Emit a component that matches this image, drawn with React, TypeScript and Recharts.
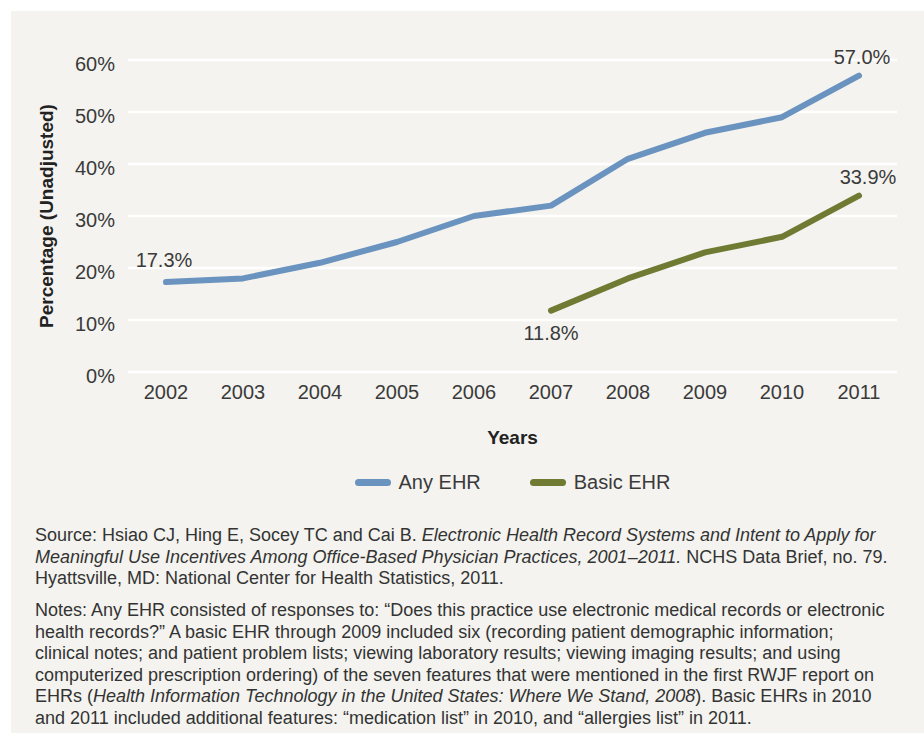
import React from 'react';
import { LineChart, Line, XAxis, YAxis, CartesianGrid, Legend, LabelList } from 'recharts';

// values
const years = ['2002', '2003', '2004', '2005', '2006', '2007', '2008', '2009', '2010', '2011'];
const anyEhr = [17.3, 18, 21, 25, 30, 32, 41, 46, 49, 57.0];
const basicEhr = [null, null, null, null, null, 11.8, 18, 23, 26, 33.9];
const yTicks = [0, 10, 20, 30, 40, 50, 60];
// which points carry a value label
const anyLabelIdx = [0, 9];
const basicLabelIdx = [5, 9];

const BLUE = '#6a93bf';
const GREEN = '#6f7b33';
const TEXT = '#3a3a3a';
const FONT = '"Liberation Sans", Arial, sans-serif';

const data = years.map((year, i) => ({ year, any: anyEhr[i], basic: basicEhr[i] }));

const makeLabel = (idxs: number[], series: 'any' | 'basic') => (props: any) => {
  const { x, y, index, value } = props;
  if (!idxs.includes(index) || value == null) return null;
  let dx = 0;
  let dy = -20;
  if (series === 'any') {
    dx = index === 0 ? -2 : 3;
    dy = index === 0 ? -22 : -19;
  } else {
    dx = index === 5 ? 0 : 9;
    dy = index === 5 ? 22 : -19;
  }
  return (
    <text
      x={x + dx}
      y={y + dy}
      textAnchor="middle"
      dominantBaseline="central"
      fill={TEXT}
      fontSize={20}
      fontFamily={FONT}
    >
      {Number(value).toFixed(1)}%
    </text>
  );
};

const LegendContent = () => {
  const items = [
    { name: 'Any EHR', color: BLUE },
    { name: 'Basic EHR', color: GREEN },
  ];
  return (
    <div style={{ display: 'flex', justifyContent: 'center', alignItems: 'center', height: 30, fontFamily: FONT }}>
      {items.map((it, i) => (
        <div key={it.name} style={{ display: 'flex', alignItems: 'center', marginLeft: i === 0 ? 0 : 49 }}>
          <span
            style={{ display: 'inline-block', width: 36, height: 7, borderRadius: 4, background: it.color, marginRight: 8 }}
          />
          <span style={{ fontSize: 20, color: TEXT }}>{it.name}</span>
        </div>
      ))}
    </div>
  );
};

export default function App() {
  return (
    <div style={{ position: 'absolute', left: 0, top: 0, width: 924, height: 733, background: '#fff', overflow: 'hidden' }}>
      <div style={{ position: 'absolute', left: 11, top: 11, width: 913, height: 722, background: '#f4f3ef' }}>
        <LineChart width={913} height={500} data={data} margin={{ top: 49, right: 27, left: 0, bottom: 14 }}>
          <CartesianGrid vertical={false} stroke="#ffffff" strokeWidth={2.5} />
          <XAxis
            dataKey="year"
            padding={{ left: 38, right: 38 }}
            axisLine={false}
            tickLine={false}
            tickSize={0}
            tickMargin={13}
            height={95}
            tick={{ fill: TEXT, fontSize: 20, fontFamily: FONT }}
            label={{ value: 'Years', position: 'insideBottom', offset: 23, fill: '#222', fontSize: 19, fontWeight: 'bold', fontFamily: FONT }}
          />
          <YAxis
            domain={[0, 60]}
            ticks={yTicks}
            tickFormatter={(v: number) => `${v}%`}
            axisLine={false}
            tickLine={false}
            tickSize={0}
            tickMargin={13}
            width={117}
            tick={{ fill: TEXT, fontSize: 20, fontFamily: FONT, dy: 4 }}
            label={{
              value: 'Percentage (Unadjusted)',
              angle: -90,
              position: 'insideLeft',
              offset: 35,
              fill: '#222',
              fontSize: 19,
              fontWeight: 'bold',
              fontFamily: FONT,
              style: { textAnchor: 'middle' },
            }}
          />
          <Legend
            verticalAlign="bottom"
            content={<LegendContent />}
            wrapperStyle={{ left: 117, width: 769 }}
          />
          <Line
            type="linear"
            dataKey="any"
            name="Any EHR"
            stroke={BLUE}
            strokeWidth={6}
            strokeLinecap="round"
            strokeLinejoin="round"
            dot={false}
            activeDot={false}
            isAnimationActive={false}
          >
            <LabelList dataKey="any" content={makeLabel(anyLabelIdx, 'any')} />
          </Line>
          <Line
            type="linear"
            dataKey="basic"
            name="Basic EHR"
            stroke={GREEN}
            strokeWidth={6}
            strokeLinecap="round"
            strokeLinejoin="round"
            dot={false}
            activeDot={false}
            isAnimationActive={false}
          >
            <LabelList dataKey="basic" content={makeLabel(basicLabelIdx, 'basic')} />
          </Line>
        </LineChart>
        <div
          style={{
            position: 'absolute',
            left: 24,
            top: 514,
            fontFamily: FONT,
            fontSize: 18,
            lineHeight: '21.5px',
            color: '#333',
            whiteSpace: 'nowrap',
          }}
        >
          <div>
            Source: Hsiao CJ, Hing E, Socey TC and Cai B. <i>Electronic Health Record Systems and Intent to Apply for</i>
            <br />
            <i>Meaningful Use Incentives Among Office-Based Physician Practices, 2001–2011.</i> NCHS Data Brief, no. 79.
            <br />
            Hyattsville, MD: National Center for Health Statistics, 2011.
          </div>
          <div style={{ marginTop: 10.5 }}>
            Notes: Any EHR consisted of responses to: “Does this practice use electronic medical records or electronic
            <br />
            health records?” A basic EHR through 2009 included six (recording patient demographic information;
            <br />
            clinical notes; and patient problem lists; viewing laboratory results; viewing imaging results; and using
            <br />
            computerized prescription ordering) of the seven features that were mentioned in the first RWJF report on
            <br />
            EHRs (<i>Health Information Technology in the United States: Where We Stand, 2008</i>). Basic EHRs in 2010
            <br />
            and 2011 included additional features: “medication list” in 2010, and “allergies list” in 2011.
          </div>
        </div>
      </div>
    </div>
  );
}
